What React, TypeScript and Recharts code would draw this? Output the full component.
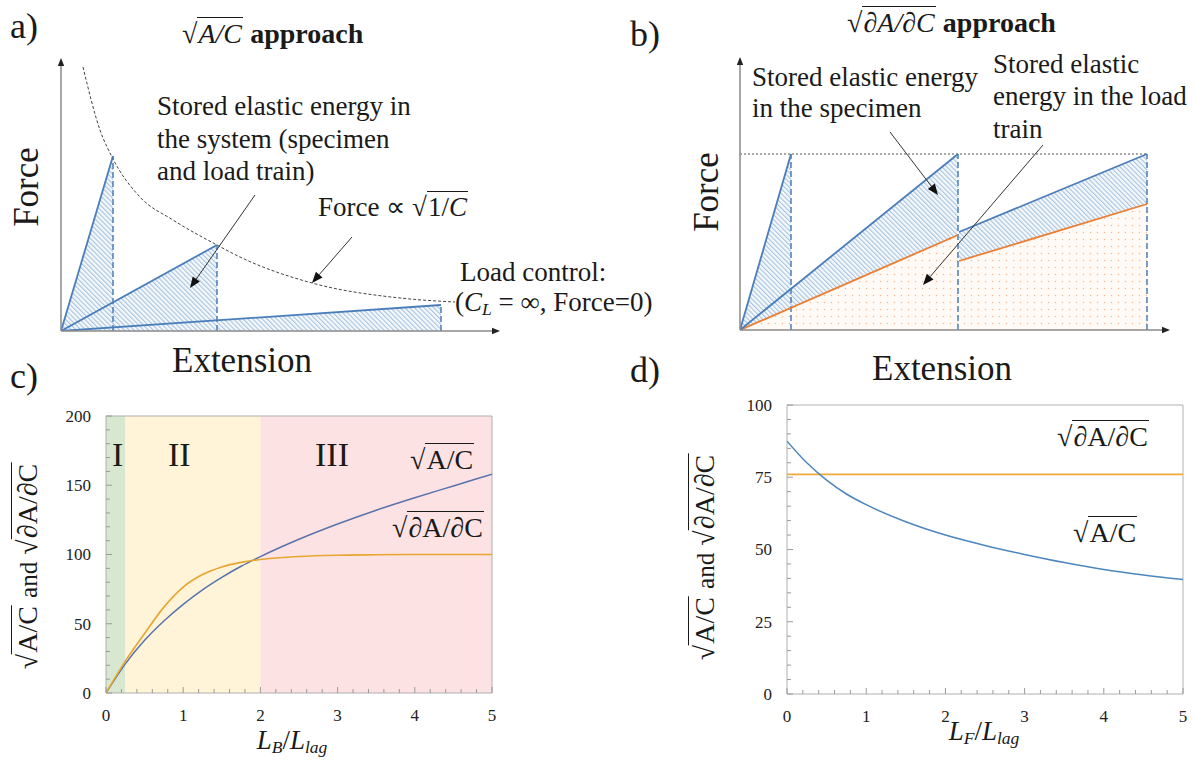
import React from "react";
import {
  ComposedChart,
  Area,
  Line,
  XAxis,
  YAxis,
  ReferenceLine,
  ReferenceArea,
} from "recharts";

const SERIF = '"Liberation Serif", "Times New Roman", serif';
const BLUE = "#4a7ebb";
const ORANGE = "#ed7d31";
const AXIS_GREY = "#8a8a8a";

// a) load–extension triangles for three load-train compliances (arbitrary units)
const aPeaks = [
  { ext: 5.2, force: 17.5 },
  { ext: 15.6, force: 8.6 },
  { ext: 38.0, force: 2.6 },
];
// peak-force envelope, Force ∝ √(1/C)
const aEnvelope = [
  { ext: 2.2, force: 26.4 },
  { ext: 3.9, force: 20.1 },
  { ext: 5.1, force: 17.4 },
  { ext: 7.9, force: 13.4 },
  { ext: 11.2, force: 11.1 },
  { ext: 15.6, force: 8.6 },
  { ext: 17.9, force: 7.4 },
  { ext: 25.1, force: 4.8 },
  { ext: 33.9, force: 3.3 },
  { ext: 39.4, force: 2.9 },
];
const aArrows = [
  { x1: 19.4, y1: 13.6, x2: 12.9, y2: 4.3 },
  { x1: 29.1, y1: 9.4, x2: 25.1, y2: 4.8 },
];

// b) same peak force, system vs. load train
const bPeakForce = 17.6;
const bPeakExt = [5.1, 21.8, 40.7];
const bSystem1 = [{ ext: 0, force: 0 }, { ext: 5.1, force: 17.6 }];
const bSystem2 = [{ ext: 0, force: 0 }, { ext: 21.8, force: 17.6 }];
const bSystem3 = [{ ext: 21.9, force: 9.8 }, { ext: 40.7, force: 17.6 }];
const bTrain1 = [{ ext: 0, force: 0 }, { ext: 21.8, force: 9.5 }];
const bTrain2 = [{ ext: 21.9, force: 6.9 }, { ext: 40.7, force: 12.6 }];
const bSpecimen1 = [
  { ext: 0, band: [0, 0] },
  { ext: 5.1, band: [2.2, 17.6] },
  { ext: 5.1, band: [2.2, 4.1] },
  { ext: 21.8, band: [9.5, 17.6] },
];
const bSpecimen2 = [
  { ext: 21.9, band: [6.9, 9.8] },
  { ext: 40.7, band: [12.6, 17.6] },
];
const bArrows = [
  { x1: 15.0, y1: 19.8, x2: 19.8, y2: 13.5 },
  { x1: 30.3, y1: 18.5, x2: 18.3, y2: 4.5 },
];

// c) vs L_B/L_lag
const cX = [0, 0.25, 0.5, 0.75, 1, 1.25, 1.5, 1.75, 2, 2.5, 3, 3.5, 4, 4.5, 5];
const cRootAC = [0, 21, 38, 52, 64, 74.5, 83.5, 91.5, 98.5, 111, 122, 132, 141, 149.5, 158];
const cRootDADC = [0, 23, 43, 62, 76.5, 85.5, 91, 94.3, 96.4, 98.6, 99.5, 99.8, 100, 100, 100];
const cRegions = [
  { from: 0, to: 0.25, fill: "#d8e8d0" },
  { from: 0.25, to: 2, fill: "#fff3d8" },
  { from: 2, to: 5, fill: "#fde2e3" },
];

// d) vs L_F/L_lag
const dX = [0, 0.25, 0.5, 0.75, 1, 1.5, 2, 2.5, 3, 3.5, 4, 4.5, 5];
const dRootAC = [87.5, 80, 74, 69.2, 65.5, 59.6, 55, 51.4, 48.3, 45.5, 43.1, 41.2, 39.6];
const dRootDADC = [76, 76, 76, 76, 76, 76, 76, 76, 76, 76, 76, 76, 76];

const xMinorTicks = Array.from({ length: 26 }, (_, i) => Math.round(i * 2) / 10);
const cYTicks = Array.from({ length: 21 }, (_, i) => i * 10);
const dYTicks = Array.from({ length: 21 }, (_, i) => i * 5);

const cData = cX.map((x, i) => ({ x, ac: cRootAC[i], dadc: cRootDADC[i] }));
const dData = dX.map((x, i) => ({ x, ac: dRootAC[i], dadc: dRootDADC[i] }));

function arrowShape(lineColor: string, headColor: string, head: number, width = 1) {
  return (p: any) => {
    const { x1, y1, x2, y2 } = p;
    const a = Math.atan2(y2 - y1, x2 - x1);
    const bx = x2 - head * Math.cos(a);
    const by = y2 - head * Math.sin(a);
    const hw = head * 0.4;
    const pts = `${x2},${y2} ${bx - hw * Math.sin(a)},${by + hw * Math.cos(a)} ${bx + hw * Math.sin(a)},${by - hw * Math.cos(a)}`;
    return (
      <g>
        <line x1={x1} y1={y1} x2={bx} y2={by} stroke={lineColor} strokeWidth={width} />
        <polygon points={pts} fill={headColor} />
      </g>
    );
  };
}

const isMultiple = (v: number, step: number) => Math.abs(v / step - Math.round(v / step)) < 1e-6;

function yTick(labelStep: number) {
  return (p: any) => {
    const { x, y, payload } = p;
    const major = isMultiple(payload.value, labelStep);
    return (
      <g>
        <line x1={x} x2={x + (major ? 6 : 4)} y1={y} y2={y} stroke="#9a9a9a" />
        {major && (
          <text x={x - 15} y={y} dy="0.35em" textAnchor="end" fontFamily={SERIF} fontSize={17} fill="#222">
            {payload.value}
          </text>
        )}
      </g>
    );
  };
}

function xTick(p: any) {
  const { x, y, payload } = p;
  const major = isMultiple(payload.value, 1);
  return (
    <g>
      <line x1={x} x2={x} y1={y} y2={y - (major ? 6 : 4)} stroke="#9a9a9a" />
      {major && (
        <text x={x} y={y + 22} dy="0.35em" textAnchor="middle" fontFamily={SERIF} fontSize={17} fill="#222">
          {payload.value}
        </text>
      )}
    </g>
  );
}

function Txt({ x, y, size = 27, anchor = "start", style, children }: any) {
  const shift = anchor === "middle" ? "translateX(-50%)" : anchor === "end" ? "translateX(-100%)" : undefined;
  return (
    <div
      style={{
        position: "absolute",
        left: x,
        top: y - 0.84 * size,
        fontSize: size,
        lineHeight: 1,
        whiteSpace: "nowrap",
        transform: shift,
        ...style,
      }}
    >
      {children}
    </div>
  );
}

function VTxt({ cx, cy, size = 27, children }: any) {
  return (
    <div
      style={{
        position: "absolute",
        left: cx,
        top: cy,
        fontSize: size,
        lineHeight: 1,
        whiteSpace: "nowrap",
        transform: "translate(-50%, -50%) rotate(-90deg)",
      }}
    >
      {children}
    </div>
  );
}

function Sqrt({ children, italic = false }: any) {
  return (
    <span style={{ whiteSpace: "nowrap", fontWeight: 400 }}>
      <span style={{ fontStyle: "normal" }}>√</span>
      <span
        style={{
          borderTop: "1.5px solid currentColor",
          fontStyle: italic ? "italic" : "normal",
          padding: "0 0.04em",
        }}
      >
        {children}
      </span>
    </span>
  );
}

const Sub = ({ children }: any) => (
  <sub style={{ fontSize: "0.65em", verticalAlign: "-0.25em", fontStyle: "italic" }}>{children}</sub>
);

function PanelA() {
  return (
    <div style={{ position: "absolute", left: 51, top: 46 }}>
      <ComposedChart width={460} height={295} margin={{ top: 10, right: 10, bottom: 10, left: 10 }}>
        <XAxis type="number" dataKey="ext" domain={[0, 44]} hide allowDataOverflow />
        <YAxis type="number" domain={[0, 27.5]} hide allowDataOverflow />
        {aPeaks.map((p, i) => (
          <Area
            key={`tri-${i}`}
            data={[{ ext: 0, force: 0 }, p]}
            dataKey="force"
            type="linear"
            stroke={BLUE}
            strokeWidth={1.8}
            fill="url(#hatchBlue)"
            fillOpacity={1}
            dot={false}
            activeDot={false}
            isAnimationActive={false}
          />
        ))}
        <Line
          data={aEnvelope}
          dataKey="force"
          type="monotone"
          stroke="#444"
          strokeWidth={1}
          strokeDasharray="3 2"
          dot={false}
          activeDot={false}
          isAnimationActive={false}
        />
        {aPeaks.map((p, i) => (
          <ReferenceLine
            key={`drop-${i}`}
            segment={[{ x: p.ext, y: 0 }, { x: p.ext, y: p.force }]}
            stroke={BLUE}
            strokeWidth={1.5}
            strokeDasharray="6 3"
            ifOverflow="visible"
          />
        ))}
        <ReferenceLine segment={[{ x: 0, y: 0 }, { x: 0, y: 27.3 }]} ifOverflow="visible" shape={arrowShape(AXIS_GREY, "#222", 8, 1.5)} />
        <ReferenceLine segment={[{ x: 0, y: 0 }, { x: 43.9, y: 0 }]} ifOverflow="visible" shape={arrowShape(AXIS_GREY, "#222", 8, 1.5)} />
        {aArrows.map((a, i) => (
          <ReferenceLine
            key={`arr-${i}`}
            segment={[{ x: a.x1, y: a.y1 }, { x: a.x2, y: a.y2 }]}
            ifOverflow="visible"
            shape={arrowShape("#333", "#111", 11, 1)}
          />
        ))}
      </ComposedChart>
    </div>
  );
}

function PanelB() {
  const lineProps = { dataKey: "force", type: "linear" as const, dot: false, activeDot: false, isAnimationActive: false };
  return (
    <div style={{ position: "absolute", left: 730, top: 47 }}>
      <ComposedChart width={450} height={293} margin={{ top: 10, right: 10, bottom: 10, left: 10 }}>
        <XAxis type="number" dataKey="ext" domain={[0, 43]} hide allowDataOverflow />
        <YAxis type="number" domain={[0, 27.3]} hide allowDataOverflow />
        <Area data={bTrain1} {...lineProps} stroke="none" fill="url(#dotsOrange)" fillOpacity={1} />
        <Area data={bTrain2} {...lineProps} stroke="none" fill="url(#dotsOrange)" fillOpacity={1} />
        <Area data={bSpecimen1} {...lineProps} dataKey="band" stroke="none" fill="url(#hatchBlue)" fillOpacity={1} />
        <Area data={bSpecimen2} {...lineProps} dataKey="band" stroke="none" fill="url(#hatchBlue)" fillOpacity={1} />
        <ReferenceLine
          segment={[{ x: 0, y: bPeakForce }, { x: bPeakExt[2], y: bPeakForce }]}
          stroke="#555"
          strokeWidth={1}
          strokeDasharray="2 2"
          ifOverflow="visible"
        />
        {bPeakExt.map((x, i) => (
          <ReferenceLine
            key={`drop-${i}`}
            segment={[{ x, y: 0 }, { x, y: bPeakForce }]}
            stroke={BLUE}
            strokeWidth={1.5}
            strokeDasharray="6 3"
            ifOverflow="visible"
          />
        ))}
        <Line data={bTrain1} {...lineProps} stroke={ORANGE} strokeWidth={1.8} />
        <Line data={bTrain2} {...lineProps} stroke={ORANGE} strokeWidth={1.8} />
        <Line data={bSystem1} {...lineProps} stroke={BLUE} strokeWidth={1.8} />
        <Line data={bSystem2} {...lineProps} stroke={BLUE} strokeWidth={1.8} />
        <Line data={bSystem3} {...lineProps} stroke={BLUE} strokeWidth={1.8} />
        <ReferenceLine segment={[{ x: 0, y: 0 }, { x: 0, y: 27.3 }]} ifOverflow="visible" shape={arrowShape(AXIS_GREY, "#222", 8, 1.5)} />
        <ReferenceLine segment={[{ x: 0, y: 0 }, { x: 43, y: 0 }]} ifOverflow="visible" shape={arrowShape(AXIS_GREY, "#222", 8, 1.5)} />
        {bArrows.map((a, i) => (
          <ReferenceLine
            key={`arr-${i}`}
            segment={[{ x: a.x1, y: a.y1 }, { x: a.x2, y: a.y2 }]}
            ifOverflow="visible"
            shape={arrowShape("#333", "#111", 11, 1)}
          />
        ))}
      </ComposedChart>
    </div>
  );
}

function PanelC() {
  return (
    <div style={{ position: "absolute", left: 50, top: 406 }}>
      <ComposedChart width={452} height={327} data={cData} margin={{ top: 10, right: 10, left: 0, bottom: 10 }}>
        <XAxis
          dataKey="x"
          type="number"
          domain={[0, 5]}
          ticks={xMinorTicks}
          interval={0}
          height={30}
          tickSize={0}
          tickMargin={0}
          tickLine={false}
          axisLine={false}
          tick={xTick}
          allowDataOverflow
        />
        <YAxis
          type="number"
          domain={[0, 200]}
          ticks={cYTicks}
          interval={0}
          width={56}
          tickSize={0}
          tickMargin={0}
          tickLine={false}
          axisLine={false}
          tick={yTick(50)}
          allowDataOverflow
        />
        {cRegions.map((r) => (
          <ReferenceArea key={r.from} x1={r.from} x2={r.to} y1={0} y2={200} fill={r.fill} fillOpacity={1} stroke="none" ifOverflow="visible" />
        ))}
        <Line dataKey="ac" type="monotone" stroke="#5873ad" strokeWidth={1.5} dot={false} activeDot={false} isAnimationActive={false} />
        <Line dataKey="dadc" type="monotone" stroke="#e8a530" strokeWidth={1.6} dot={false} activeDot={false} isAnimationActive={false} />
        <ReferenceArea x1={0} x2={5} y1={0} y2={200} fill="none" stroke="#b0b0b0" ifOverflow="visible" />
      </ComposedChart>
    </div>
  );
}

function PanelD() {
  return (
    <div style={{ position: "absolute", left: 730, top: 395 }}>
      <ComposedChart width={461} height={339} data={dData} margin={{ top: 10, right: 8, left: 0, bottom: 10 }}>
        <XAxis
          dataKey="x"
          type="number"
          domain={[0, 5]}
          ticks={xMinorTicks}
          interval={0}
          height={30}
          tickSize={0}
          tickMargin={0}
          tickLine={false}
          axisLine={false}
          tick={xTick}
          allowDataOverflow
        />
        <YAxis
          type="number"
          domain={[0, 100]}
          ticks={dYTicks}
          interval={0}
          width={57}
          tickSize={0}
          tickMargin={0}
          tickLine={false}
          axisLine={false}
          tick={yTick(25)}
          allowDataOverflow
        />
        <Line dataKey="dadc" type="monotone" stroke="#f2a93b" strokeWidth={1.6} dot={false} activeDot={false} isAnimationActive={false} />
        <Line dataKey="ac" type="monotone" stroke="#4d86bd" strokeWidth={1.5} dot={false} activeDot={false} isAnimationActive={false} />
        <ReferenceArea x1={0} x2={5} y1={0} y2={100} fill="none" stroke="#b0b0b0" ifOverflow="visible" />
      </ComposedChart>
    </div>
  );
}

export default function App() {
  return (
    <div
      style={{
        position: "absolute",
        left: 0,
        top: 0,
        width: 1195,
        height: 768,
        background: "#fff",
        fontFamily: SERIF,
        color: "#1a1a1a",
        overflow: "hidden",
      }}
    >
      <svg width={0} height={0} style={{ position: "absolute" }}>
        <defs>
          <pattern id="hatchBlue" patternUnits="userSpaceOnUse" width={3.4} height={3.4} patternTransform="rotate(-45)">
            <rect width={3.4} height={3.4} fill="#f6f9fc" />
            <line x1={0.6} y1={0} x2={0.6} y2={3.4} stroke="#9dbcdc" strokeWidth={1} />
          </pattern>
          <pattern id="dotsOrange" patternUnits="userSpaceOnUse" width={7} height={7}>
            <rect width={7} height={7} fill="#fffaf6" />
            <circle cx={3.5} cy={3.5} r={0.75} fill="#f2b890" />
          </pattern>
        </defs>
      </svg>

      <PanelA />
      <PanelB />
      <PanelC />
      <PanelD />

      {/* a) */}
      <Txt x={10} y={38} size={36}>a)</Txt>
      <Txt x={182} y={44} size={28}>
        <Sqrt italic>A/C</Sqrt> <b>approach</b>
      </Txt>
      <VTxt cx={26} cy={187} size={35}>Force</VTxt>
      <Txt x={242} y={372} size={35} anchor="middle">Extension</Txt>
      <Txt x={157} y={116}>Stored elastic energy in</Txt>
      <Txt x={157} y={149}>the system (specimen</Txt>
      <Txt x={157} y={181}>and load train)</Txt>
      <Txt x={318} y={217}>
        Force ∝ <Sqrt>1/<i>C</i></Sqrt>
      </Txt>
      <Txt x={460} y={282}>Load control:</Txt>
      <Txt x={455} y={312}>
        (<i>C</i>
        <Sub>L</Sub> = ∞, Force=0)
      </Txt>

      {/* b) */}
      <Txt x={630} y={46} size={36}>b)</Txt>
      <Txt x={847} y={33} size={28}>
        <Sqrt italic>∂A/∂C</Sqrt> <b>approach</b>
      </Txt>
      <VTxt cx={706} cy={192} size={35}>Force</VTxt>
      <Txt x={942} y={380} size={35} anchor="middle">Extension</Txt>
      <Txt x={752} y={87}>Stored elastic energy</Txt>
      <Txt x={752} y={118}>in the specimen</Txt>
      <Txt x={993} y={74}>Stored elastic</Txt>
      <Txt x={993} y={106}>energy in the load</Txt>
      <Txt x={993} y={139}>train</Txt>

      {/* c) */}
      <Txt x={10} y={388} size={36}>c)</Txt>
      <Txt x={112} y={467} size={34}>I</Txt>
      <Txt x={168} y={467} size={34}>II</Txt>
      <Txt x={315} y={467} size={34}>III</Txt>
      <Txt x={410} y={470} size={28}>
        <Sqrt>A/C</Sqrt>
      </Txt>
      <Txt x={392} y={538} size={28}>
        <Sqrt>∂A/∂C</Sqrt>
      </Txt>
      <VTxt cx={28} cy={566} size={28}>
        <Sqrt>A/C</Sqrt> <span style={{ fontSize: "0.9em" }}>and</span> <Sqrt>∂A/∂C</Sqrt>
      </VTxt>
      <Txt x={292} y={750} size={27} anchor="middle">
        <i>L</i>
        <Sub>B</Sub>/<i>L</i>
        <Sub>lag</Sub>
      </Txt>

      {/* d) */}
      <Txt x={630} y={382} size={36}>d)</Txt>
      <Txt x={1057} y={447} size={28}>
        <Sqrt>∂A/∂C</Sqrt>
      </Txt>
      <Txt x={1073} y={543} size={28}>
        <Sqrt>A/C</Sqrt>
      </Txt>
      <VTxt cx={705} cy={557} size={28}>
        <Sqrt>A/C</Sqrt> <span style={{ fontSize: "0.9em" }}>and</span> <Sqrt>∂A/∂C</Sqrt>
      </VTxt>
      <Txt x={984} y={741} size={27} anchor="middle">
        <i>L</i>
        <Sub>F</Sub>/<i>L</i>
        <Sub>lag</Sub>
      </Txt>
    </div>
  );
}
